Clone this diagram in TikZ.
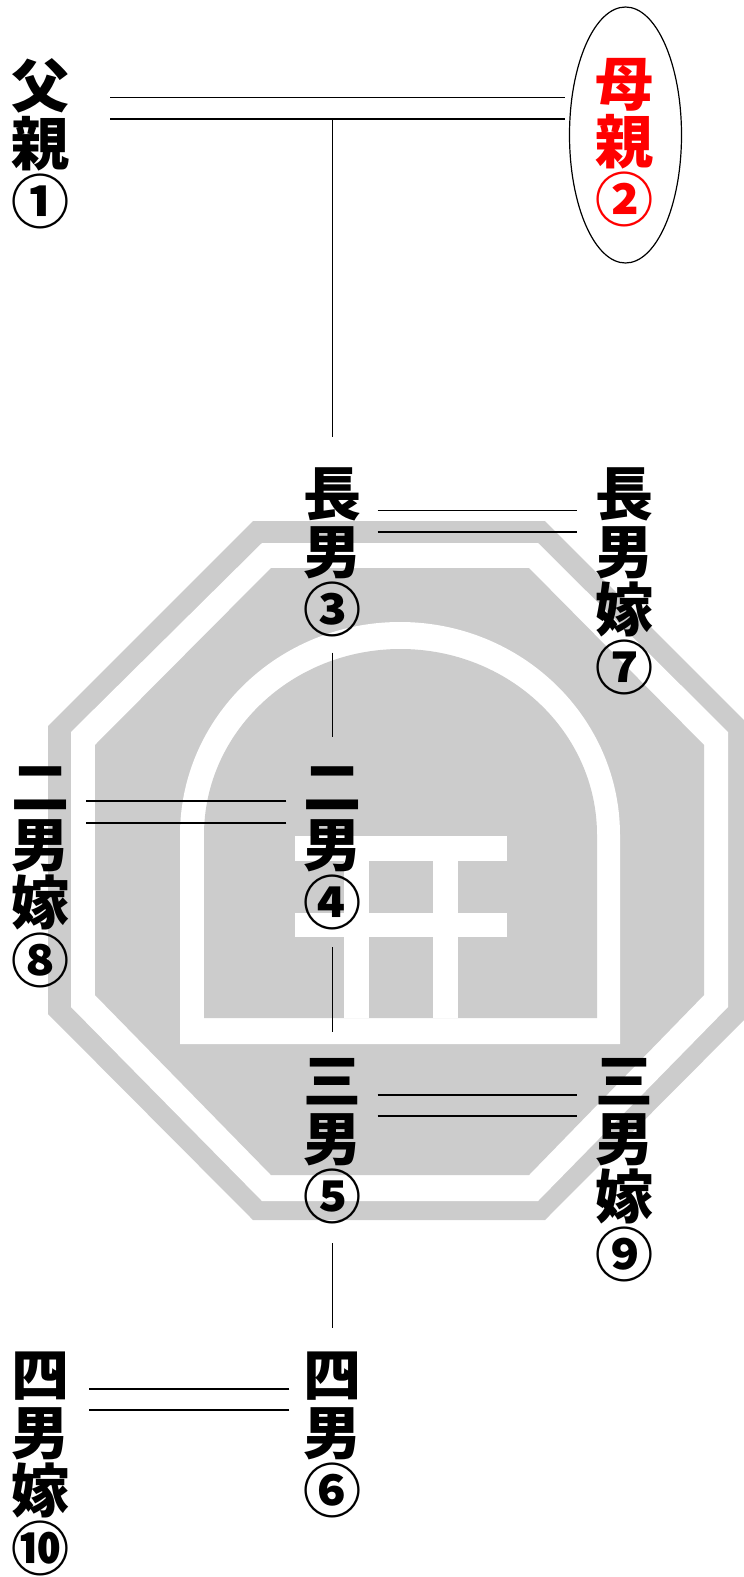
\documentclass[tikz,border=0pt]{standalone}
\usepackage{fontspec}
\usetikzlibrary{calc,shapes.geometric}
\newfontfamily\cjk{Noto Sans CJK JP Black}
\definecolor{markgray}{HTML}{CCCCCC}

\begin{document}
\begin{tikzpicture}[x=1pt,y=-1pt]
	\tikzset{person/.style={anchor=north,inner sep=0pt,align=center,text=#1,font=\cjk\fontsize{58}{58}\selectfont},person/.default=black}
	\tikzset{couple/.style={draw,line width=1.3pt},stem/.style={draw,line width=1.2pt}}
	\useasboundingbox (0,0) rectangle (744,1577);

	% mark behind the tree
	\begin{scope}
		\clip (0,0) rectangle (744,1577);
		\fill[markgray] (253,521) -- (545,521) -- (750,726) -- (750,1014) -- (545,1220) -- (253,1220) -- (48,1014) -- (48,726) -- cycle;
		\fill[white] (262,543) -- (538,543) -- (728,732) -- (728,1007) -- (538,1201) -- (262,1201) -- (71,1007) -- (71,732) -- cycle;
		\fill[markgray] (271,568) -- (529,568) -- (704,745) -- (704,995) -- (529,1175) -- (271,1175) -- (95,995) -- (95,745) -- cycle;
		\fill[white] (180,1044) -- (180,835) arc[start angle=180,end angle=360,x radius=220,y radius=213] -- (620,1044) -- cycle;
		\fill[markgray] (204,1018) -- (204,835) arc[start angle=180,end angle=360,x radius=196.5,y radius=186] -- (597,1018) -- cycle;
		\fill[white] (295,836) rectangle (507,861);
		\fill[white] (295,913) rectangle (507,937);
		\fill[white] (344,861) rectangle (369,1018);
		\fill[white] (433,861) rectangle (458,1018);
	\end{scope}

	\node[person] (father) at (40,58) {父\\親\\①};
	\node[person=red] (mother) at (624,58) {母\\親\\②};
	\node[draw,ellipse,line width=1.2pt,minimum width=112pt,minimum height=256pt,inner sep=0pt] (ring) at (625.5,135) {};
	\node[person] (son1) at (332.5,467) {長\\男\\③};
	\node[person] (wife1) at (624,467) {長\\男\\嫁\\⑦};
	\node[person] (son2) at (332.5,767) {二\\男\\④};
	\node[person] (wife2) at (40,767) {二\\男\\嫁\\⑧};
	\node[person] (son3) at (332.5,1058) {三\\男\\⑤};
	\node[person] (wife3) at (624,1058) {三\\男\\嫁\\⑨};
	\node[person] (son4) at (332.5,1352) {四\\男\\⑥};
	\node[person] (wife4) at (40,1352) {四\\男\\嫁\\⑩};

	% marriages
	\coordinate (P1) at (father.east |- 0,97.6);
	\coordinate (P2) at (father.east |- 0,119);
	\draw[couple,shorten <=41pt,shorten >=4pt] (P1) -- (P1 -| ring.west);
	\draw[couple,shorten <=41pt,shorten >=4pt] (P2) -- (P2 -| ring.west);
	\draw[couple,shorten <=16pt,shorten >=18pt] (son1.east |- 0,510.5) -- (wife1.west |- 0,510.5);
	\draw[couple,shorten <=16pt,shorten >=18pt] (son1.east |- 0,532) -- (wife1.west |- 0,532);
	\draw[couple,shorten <=17pt,shorten >=17pt] (son2.west |- 0,801) -- (wife2.east |- 0,801);
	\draw[couple,shorten <=17pt,shorten >=17pt] (son2.west |- 0,823) -- (wife2.east |- 0,823);
	\draw[couple,shorten <=16pt,shorten >=18pt] (son3.east |- 0,1095) -- (wife3.west |- 0,1095);
	\draw[couple,shorten <=16pt,shorten >=18pt] (son3.east |- 0,1116) -- (wife3.west |- 0,1116);
	\draw[couple,shorten <=14pt,shorten >=20pt] (son4.west |- 0,1389) -- (wife4.east |- 0,1389);
	\draw[couple,shorten <=14pt,shorten >=20pt] (son4.west |- 0,1410) -- (wife4.east |- 0,1410);

	% children
	\draw[stem] (son1 |- P2) -- (son1 |- 0,437);
	\draw[stem] (son1 |- 0,652.5) -- (son2 |- 0,737);
	\draw[stem] (son2 |- 0,947) -- (son3 |- 0,1032);
	\draw[stem] (son3 |- 0,1243) -- (son4 |- 0,1327.5);
\end{tikzpicture}
\end{document}
